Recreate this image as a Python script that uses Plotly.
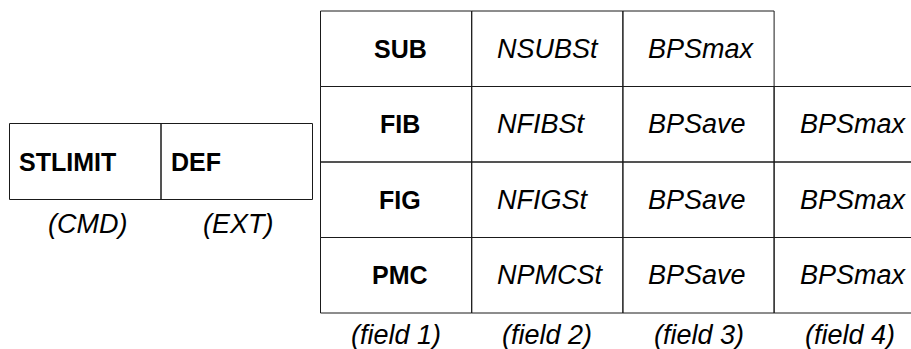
import plotly.graph_objects as go

# ---- data ----
left_cells = ["STLIMIT", "DEF"]
left_labels = ["(CMD)", "(EXT)"]

right_rows = [
    ["SUB", "NSUBSt", "BPSmax", ""],
    ["FIB", "NFIBSt", "BPSave", "BPSmax"],
    ["FIG", "NFIGSt", "BPSave", "BPSmax"],
    ["PMC", "NPMCSt", "BPSave", "BPSmax"],
]
field_labels = ["(field 1)", "(field 2)", "(field 3)", "(field 4)"]

# ---- geometry (pixel space via axes) ----
W, H = 911, 349
FONT = "Liberation Sans, Arial, sans-serif"
FS_B = 25
FS_I = 27
LINE = dict(color="#1a1a1a", width=1)

L_X0, L_Y0, L_CW, L_RH = 9.5, 123.5, 151.5, 76
R_X0, R_Y0, R_CW, R_RH = 320.5, 11, 151.2, 75.5

fig = go.Figure()
shapes = []
annotations = []

# left table
for i, txt in enumerate(left_cells):
    x0 = L_X0 + i * L_CW
    shapes.append(dict(type="rect", xref="x", yref="y", x0=x0, x1=x0 + L_CW,
                       y0=L_Y0, y1=L_Y0 + L_RH, line=LINE))
    annotations.append(dict(x=x0 + 7.5, y=L_Y0 + L_RH / 2, xref="x", yref="y",
                            text=f"<b>{txt}</b>", showarrow=False,
                            xanchor="left", yanchor="middle",
                            font=dict(family=FONT, size=FS_B, color="#000")))
for i, txt in enumerate(left_labels):
    cx = L_X0 + (i + 0.5) * L_CW
    annotations.append(dict(x=cx + 2, y=224, xref="x", yref="y",
                            text=f"<i>{txt}</i>", showarrow=False,
                            xanchor="center", yanchor="middle",
                            font=dict(family=FONT, size=FS_I, color="#000")))

# right table
for r, row in enumerate(right_rows):
    for c, txt in enumerate(row):
        if not txt:
            continue
        x0 = R_X0 + c * R_CW
        y0 = R_Y0 + r * R_RH
        shapes.append(dict(type="rect", xref="x", yref="y", x0=x0, x1=x0 + R_CW,
                           y0=y0, y1=y0 + R_RH, line=LINE))
        if c == 0:
            annotations.append(dict(x=x0 + R_CW / 2 + 4, y=y0 + R_RH / 2,
                                    xref="x", yref="y", text=f"<b>{txt}</b>",
                                    showarrow=False, xanchor="center",
                                    yanchor="middle",
                                    font=dict(family=FONT, size=FS_B, color="#000")))
        else:
            annotations.append(dict(x=x0 + 23.5, y=y0 + R_RH / 2,
                                    xref="x", yref="y", text=f"<i>{txt}</i>",
                                    showarrow=False, xanchor="left",
                                    yanchor="middle",
                                    font=dict(family=FONT, size=FS_I, color="#000")))
for c, txt in enumerate(field_labels):
    cx = R_X0 + (c + 0.5) * R_CW
    annotations.append(dict(x=cx, y=335, xref="x", yref="y",
                            text=f"<i>{txt}</i>", showarrow=False,
                            xanchor="center", yanchor="middle",
                            font=dict(family=FONT, size=FS_I, color="#000")))

fig.update_layout(
    width=W, height=H,
    margin=dict(l=0, r=0, t=0, b=0),
    paper_bgcolor="white", plot_bgcolor="white",
    xaxis=dict(range=[0, W], visible=False, fixedrange=True),
    yaxis=dict(range=[H, 0], visible=False, fixedrange=True),
    shapes=shapes, annotations=annotations, showlegend=False,
)
fig.write_html(
    "out.html",
    config={"displayModeBar": False},
    post_script="document.body.style.margin='0';document.body.style.overflow='hidden';",
)
